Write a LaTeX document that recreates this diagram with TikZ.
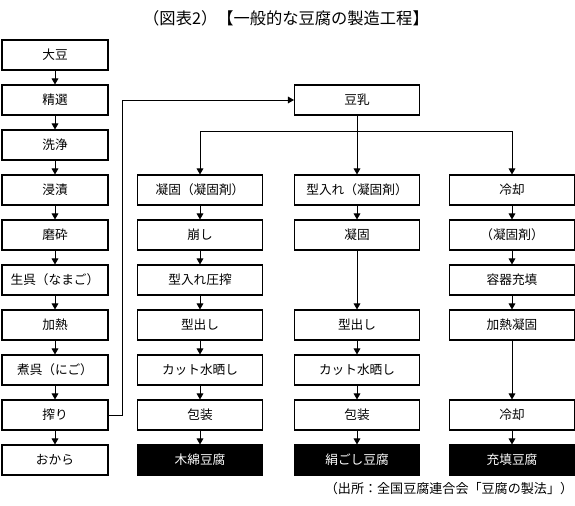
\documentclass[tikz,border=0pt]{standalone}
\usepackage{fontspec}
\setmainfont{Noto Sans CJK JP}
\usetikzlibrary{arrows.meta}

\tikzset{
  step box/.style={draw,line width=0.8pt,minimum height=22.5pt,inner sep=0pt,font=\fontsize{9.5pt}{11pt}\selectfont},
  left box/.style={step box,minimum width=79.5pt},
  col box/.style={step box,minimum width=93.75pt},
  end box/.style={col box,fill=black,text=white},
  flow/.style={line width=0.7pt,-{Triangle[length=4.5pt,width=5pt]}}
}

\begin{document}
\begin{tikzpicture}[x=0.75pt,y=-0.75pt]
\useasboundingbox (0,0) rectangle (575,506);
\node[font=\fontsize{12.2pt}{14pt}\selectfont] (title) at (286,18) {（図表2）【一般的な豆腐の製造工程】};
% left column
\foreach \name/\txt [count=\i from 0] in {daizu/大豆,seisen/精選,senjo/洗浄,shinseki/浸漬,masai/磨砕,namago/生呉（なまご）,kanetsu/加熱,nigo/煮呉（にご）,shibori/搾り,okara/おから}
  \node[left box] (\name) at (55,{55+45*\i}) {\txt};
\foreach \a/\b in {daizu/seisen,seisen/senjo,senjo/shinseki,shinseki/masai,masai/namago,namago/kanetsu,kanetsu/nigo,nigo/shibori,shibori/okara}
  \draw[flow] (\a) -- (\b);
% soy milk
\node[col box] (tonyu) at (357,100) {豆乳};
\coordinate (turn) at (122,415);
\draw[flow] (shibori.east) -- (turn) |- (tonyu.west);
% momen
\node[col box] (m1) at (200,190) {凝固（凝固剤）};
\node[col box] (m2) at (200,235) {崩し};
\node[col box] (m3) at (200,280) {型入れ圧搾};
\node[col box] (m4) at (200,325) {型出し};
\node[col box] (m5) at (200,370) {カット水晒し};
\node[col box] (m6) at (200,415) {包装};
\node[end box] (m7) at (200,460) {木綿豆腐};
% kinugoshi
\node[col box] (k1) at (357,190) {型入れ（凝固剤）};
\node[col box] (k2) at (357,235) {凝固};
\node[col box] (k4) at (357,325) {型出し};
\node[col box] (k5) at (357,370) {カット水晒し};
\node[col box] (k6) at (357,415) {包装};
\node[end box] (k7) at (357,460) {絹ごし豆腐};
% juten
\node[col box] (j1) at (512,190) {冷却};
\node[col box] (j2) at (512,235) {（凝固剤）};
\node[col box] (j3) at (512,280) {容器充填};
\node[col box] (j4) at (512,325) {加熱凝固};
\node[col box] (j6) at (512,415) {冷却};
\node[end box] (j7) at (512,460) {充填豆腐};
\foreach \a/\b in {m1/m2,m2/m3,m3/m4,m4/m5,m5/m6,m6/m7,k1/k2,k2/k4,k4/k5,k5/k6,k6/k7,j1/j2,j2/j3,j3/j4,j4/j6,j6/j7}
  \draw[flow] (\a) -- (\b);
% branch from soy milk
\coordinate (split) at (357,131);
\draw[line width=0.7pt] (tonyu) -- (split);
\draw[flow] (split) -| (m1);
\draw[flow] (split) -- (k1);
\draw[flow] (split) -| (j1);
\node[font=\fontsize{9.8pt}{11pt}\selectfont] (source) at (449,489) {（出所：全国豆腐連合会「豆腐の製法」）};
\end{tikzpicture}
\end{document}
